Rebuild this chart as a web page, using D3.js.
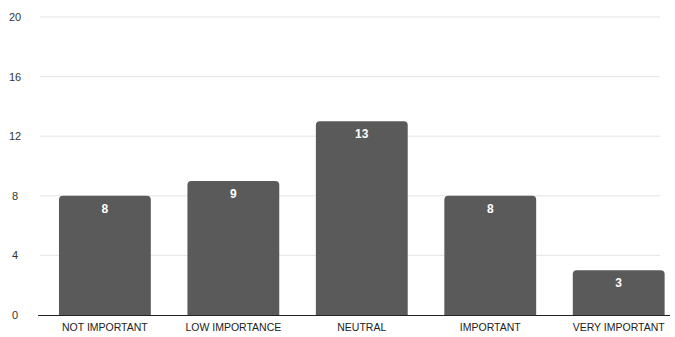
<!DOCTYPE html>
<html>
<head>
<meta charset="utf-8">
<script src="https://cdn.jsdelivr.net/npm/d3@7"></script>
<style>
  html, body { margin: 0; padding: 0; background: #fff; }
  svg { display: block; font-family: "Liberation Sans", Arial, sans-serif; }
</style>
</head>
<body>
<svg id="chart" width="675" height="337"></svg>
<script>
// Responses per importance level
const categories = ["NOT IMPORTANT", "LOW IMPORTANCE", "NEUTRAL", "IMPORTANT", "VERY IMPORTANT"];
const counts = [8, 9, 13, 8, 3];
const yTicks = [0, 4, 8, 12, 16, 20];

const svg = d3.select("#chart");
const plotBottom = 315, plotTop = 17;

const x = d3.scaleBand()
  .domain(categories)
  .range([40.6, 683])
  .paddingInner(0.285)
  .paddingOuter(0.143);

const y = d3.scaleLinear().domain([0, 20]).range([plotBottom, plotTop]);

// horizontal gridlines
svg.append("g")
  .selectAll("line")
  .data(yTicks.filter(d => d > 0))
  .join("line")
  .attr("x1", 40).attr("x2", 660)
  .attr("y1", d => y(d)).attr("y2", d => y(d))
  .attr("stroke", "#e4e4e4")
  .attr("stroke-width", 1);

// y tick labels
svg.append("g")
  .selectAll("text")
  .data(yTicks)
  .join("text")
  .attr("x", 15)
  .attr("y", d => y(d) + 4)
  .attr("text-anchor", "middle")
  .attr("font-size", 11)
  .attr("fill", "#333")
  .text(d => d);

// bars with rounded top corners
const r = 4;
function barPath(x0, w, yTop, yBase) {
  return `M${x0},${yBase}V${yTop + r}Q${x0},${yTop} ${x0 + r},${yTop}H${x0 + w - r}Q${x0 + w},${yTop} ${x0 + w},${yTop + r}V${yBase}Z`;
}

svg.append("g")
  .selectAll("path")
  .data(counts)
  .join("path")
  .attr("d", (d, i) => barPath(x(categories[i]), x.bandwidth(), y(d), plotBottom))
  .attr("fill", "#5a5a5a");

// value labels inside bar tops
svg.append("g")
  .selectAll("text")
  .data(counts)
  .join("text")
  .attr("x", (d, i) => x(categories[i]) + x.bandwidth() / 2)
  .attr("y", d => y(d) + 17)
  .attr("text-anchor", "middle")
  .attr("font-size", 12)
  .attr("font-weight", "bold")
  .attr("fill", "#fff")
  .text(d => d);

// baseline
svg.append("line")
  .attr("x1", 38).attr("x2", 670)
  .attr("y1", plotBottom + 0.5).attr("y2", plotBottom + 0.5)
  .attr("stroke", "#222")
  .attr("stroke-width", 1.2);

// category labels
svg.append("g")
  .selectAll("text")
  .data(categories)
  .join("text")
  .attr("x", d => x(d) + x.bandwidth() / 2)
  .attr("y", 331)
  .attr("text-anchor", "middle")
  .attr("font-size", 10.5)
  .attr("fill", "#222")
  .text(d => d);
</script>
</body>
</html>
